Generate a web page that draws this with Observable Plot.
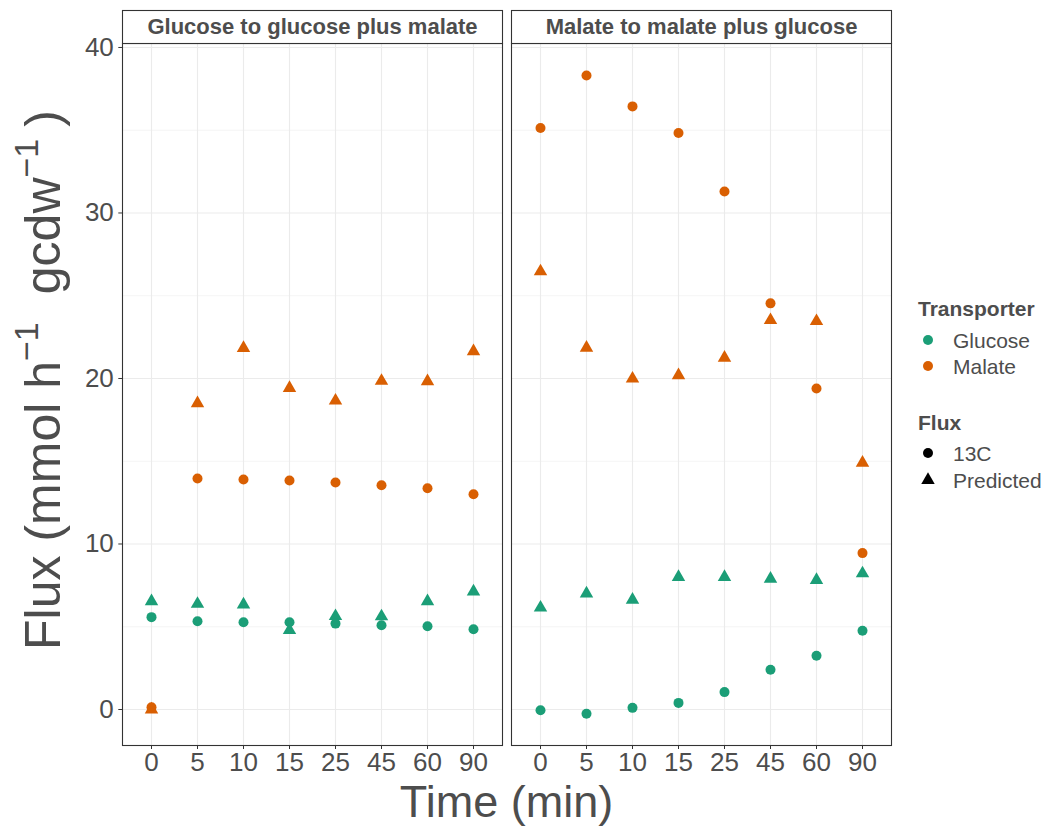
<!DOCTYPE html>
<html>
<head>
<meta charset="utf-8">
<script src="https://cdn.jsdelivr.net/npm/d3@7"></script>
<script src="https://cdn.jsdelivr.net/npm/@observablehq/plot@0.6"></script>
<style>
  html, body { margin: 0; padding: 0; background: #fff; }
  #chart { position: relative; width: 1050px; height: 827px; }
</style>
</head>
<body>
<div id="chart"></div>
<script>
// ---- data ----
const times = ["0", "5", "10", "15", "25", "45", "60", "90"];
const panels = ["Glucose to glucose plus malate", "Malate to malate plus glucose"];
const transporters = ["Glucose", "Malate"];
const fluxTypes = ["13C", "Predicted"];
const transporterColors = ["#1B9E77", "#D95F02"];
const fluxSymbols = ["circle", "triangle"];
const yMajor = [0, 10, 20, 30, 40];
const yMinor = [5, 15, 25, 35];

// Panel 1: Glucose to glucose plus malate
const p1Glucose13C = [5.58, 5.33, 5.27, 5.27, 5.19, 5.09, 5.03, 4.85];
const p1GlucosePred = [6.54, 6.38, 6.34, 4.79, 5.64, 5.62, 6.54, 7.13];
const p1Malate13C = [0.13, 13.96, 13.90, 13.84, 13.72, 13.55, 13.37, 13.01];
const p1MalatePred = [0.00, 18.50, 21.84, 19.42, 18.66, 19.85, 19.83, 21.64];
// Panel 2: Malate to malate plus glucose
const p2Glucose13C = [-0.04, -0.26, 0.10, 0.40, 1.05, 2.40, 3.25, 4.76];
const p2GlucosePred = [6.15, 7.00, 6.63, 8.00, 8.00, 7.90, 7.82, 8.22];
const p2Malate13C = [35.13, 38.31, 36.44, 34.83, 31.30, 24.54, 19.39, 9.45];
const p2MalatePred = [26.47, 21.85, 19.99, 20.19, 21.25, 23.52, 23.46, 14.90];

const series = [
  [panels[0], "Glucose", "Predicted", p1GlucosePred],
  [panels[0], "Malate", "Predicted", p1MalatePred],
  [panels[1], "Glucose", "Predicted", p2GlucosePred],
  [panels[1], "Malate", "Predicted", p2MalatePred],
  [panels[0], "Glucose", "13C", p1Glucose13C],
  [panels[0], "Malate", "13C", p1Malate13C],
  [panels[1], "Glucose", "13C", p2Glucose13C],
  [panels[1], "Malate", "13C", p2Malate13C]
];
const rows = [];
for (const [panel, transporter, flux, vals] of series) {
  vals.forEach((v, i) => rows.push({panel, transporter, flux, time: times[i], value: v}));
}

const textColor = "#4d4d4d";
const font = "'Liberation Sans', Arial, Helvetica, sans-serif";

const chart = Plot.plot({
  width: 1050,
  height: 827,
  marginLeft: 122,
  marginRight: 159,
  marginTop: 43,
  marginBottom: 82,
  style: {fontFamily: font, fontSize: "26px", color: textColor, background: "white", overflow: "visible"},
  fx: {domain: panels, paddingInner: 9 / 389, paddingOuter: 0, axis: null, label: null},
  x: {type: "point", domain: times, padding: 0.6, label: null},
  y: {domain: [-2.175, 40.24], label: null},
  color: {domain: transporters, range: transporterColors},
  symbol: {domain: fluxTypes, range: fluxSymbols},
  marks: [
    Plot.gridY(yMinor, {stroke: "#ebebeb", strokeOpacity: 1, strokeWidth: 0.55}),
    Plot.gridY(yMajor, {stroke: "#ebebeb", strokeOpacity: 1, strokeWidth: 1.1}),
    Plot.gridX(times, {stroke: "#ebebeb", strokeOpacity: 1, strokeWidth: 1.1}),
    Plot.dot(rows, {fx: "panel", x: "time", y: "value", fill: "transporter", symbol: "flux", r: 5, stroke: "none"}),
    Plot.frame({stroke: "#333333", strokeWidth: 1.1}),
    Plot.frame({stroke: "#333333", strokeWidth: 1.1, fill: "white", insetTop: -33, insetBottom: 702}),
    Plot.text(panels, {fx: d => d, text: d => d, frameAnchor: "top", dy: -16.5, lineAnchor: "middle",
      fontWeight: "bold", fontSize: 22, fill: textColor}),
    Plot.axisY(yMajor, {tickSize: 3.7, tickPadding: 5, fontSize: 26, stroke: "#333333", fill: textColor, label: null}),
    Plot.axisX(times, {tickSize: 4, tickPadding: 3, fontSize: 26, stroke: "#333333", fill: textColor, label: null})
  ]
});

document.getElementById("chart").appendChild(chart);

// ---- axis titles and legend (added to the same SVG) ----
const svg = d3.select(chart);

svg.append("text")
  .attr("x", 506.5).attr("y", 817)
  .attr("text-anchor", "middle")
  .attr("font-family", font).attr("font-size", 45).attr("fill", textColor)
  .text("Time (min)");

const yt = svg.append("text")
  .attr("transform", "translate(60,380) rotate(-90)")
  .attr("text-anchor", "middle")
  .attr("font-family", font).attr("font-size", 50).attr("fill", textColor);
yt.append("tspan").text("Flux (mmol h");
yt.append("tspan").attr("font-size", 34).attr("dy", -22).text("\u22121");
yt.append("tspan").attr("dy", 22).attr("dx", 28).text("gcdw");
yt.append("tspan").attr("font-size", 34).attr("dy", -22).text("\u22121");
yt.append("tspan").attr("dy", 22).attr("dx", 12).text(")");

const lg = svg.append("g").attr("font-family", font).attr("fill", textColor).attr("text-anchor", "start");
lg.append("text").attr("x", 918).attr("y", 315.5).attr("font-weight", "bold").attr("font-size", 21).text("Transporter");
transporters.forEach((t, i) => {
  const cy = 340 + i * 26;
  lg.append("circle").attr("cx", 928).attr("cy", cy).attr("r", 5).attr("fill", transporterColors[i]);
  lg.append("text").attr("x", 953).attr("y", cy + 7.5).attr("font-size", 21).text(t);
});
lg.append("text").attr("x", 918).attr("y", 429.5).attr("font-weight", "bold").attr("font-size", 21).text("Flux");
const symTypes = {circle: d3.symbolCircle, triangle: d3.symbolTriangle};
fluxTypes.forEach((f, i) => {
  const cy = 453 + i * 27;
  lg.append("path")
    .attr("transform", `translate(928,${cy})`)
    .attr("d", d3.symbol(symTypes[fluxSymbols[i]], Math.PI * 25)())
    .attr("fill", "black");
  lg.append("text").attr("x", 953).attr("y", cy + 7.5).attr("font-size", 21).text(f);
});
</script>
</body>
</html>
